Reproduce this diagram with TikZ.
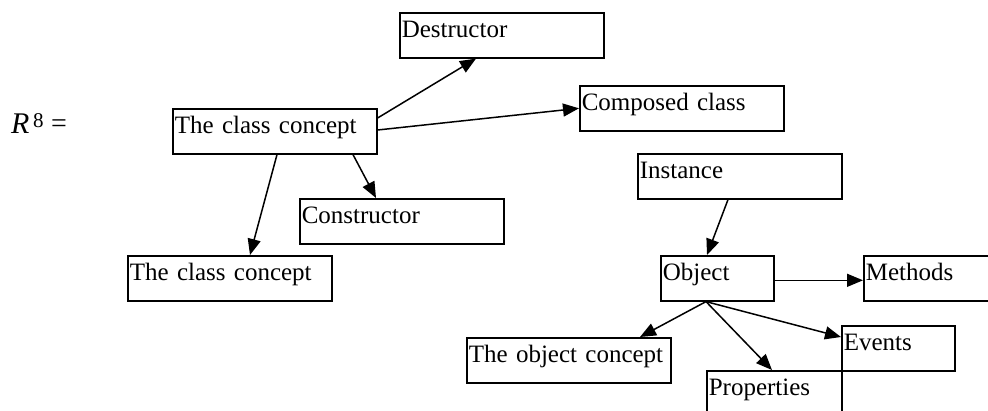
\documentclass[tikz,border=0pt]{standalone}
\usepackage{fontspec}
\setmainfont{Liberation Serif}
\usetikzlibrary{arrows.meta,calc}
\begin{document}
\begin{tikzpicture}[x=1pt,y=-1pt,
  box/.style={draw,line width=1.6pt,anchor=north west,inner xsep=2pt,inner ysep=0pt,
    minimum height=45pt,text width=200pt,align=left,text height=17pt,text depth=12pt,
    font=\fontsize{25}{30}\selectfont},
  smallbox/.style={box,text width=109pt},
  propbox/.style={box,text width=131pt},
  arr/.style={line width=1.5pt,-{Triangle[length=16pt,width=13pt]}}]
\useasboundingbox (0,0) rectangle (988,410);
\clip (0,0) rectangle (988,410);
% R^8 =
\node[anchor=base west,inner sep=0pt,font=\fontsize{30}{32}\selectfont\itshape] (R) at (11,133) {R};
\node[anchor=base west,inner sep=0pt,font=\fontsize{21}{24}\selectfont] (eight) at (33,127) {8};
\node[anchor=base west,inner sep=0pt,font=\fontsize{28}{30}\selectfont] (eq) at (51,132) {=};
% boxes
\node[box] (D) at (399,12) {Destructor};
\node[box] (C1) at (172,108) {The class concept};
\node[box] (Comp) at (579,85) {Composed class};
\node[box] (Inst) at (637,153) {Instance};
\node[box] (Cons) at (299,198) {Constructor};
\node[box] (C2) at (127,255) {The class concept};
\node[smallbox] (Obj) at (660,255) {Object};
\node[box] (Meth) at (863,255) {Methods};
\node[box] (OC) at (466,337) {The object concept};
\node[smallbox] (Ev) at (841,325) {Events};
\node[propbox] (Prop) at (706,370) {Properties};
% connectors
\draw[arr] ($(C1.north east)+(0,10)$) -- ($(D.south west)+(77,0)$);
\draw[arr] ($(C1.north east)+(0,22)$) -- (Comp.west);
\draw[arr] ($(C1.south west)+(181,0)$) -- ($(Cons.north west)+(77,0)$);
\draw[arr] ($(C1.south west)+(105,0)$) -- ($(C2.north west)+(123,0)$);
\draw[arr] ($(Inst.south west)+(91,0)$) -- ($(Obj.north west)+(47,0)$);
\draw[arr] ($(Obj.east)+(0,2)$) -- ($(Meth.west)+(0,2)$);
\coordinate (ob) at ($(Obj.south west)+(46,0)$);
\draw[arr] (ob) -- ($(OC.north west)+(174,0)$);
\draw[arr] (ob) -- ($(Prop.north west)+(66,0)$);
\draw[arr] (ob) -- ($(Ev.north west)+(0,12)$);
\end{tikzpicture}
\end{document}
